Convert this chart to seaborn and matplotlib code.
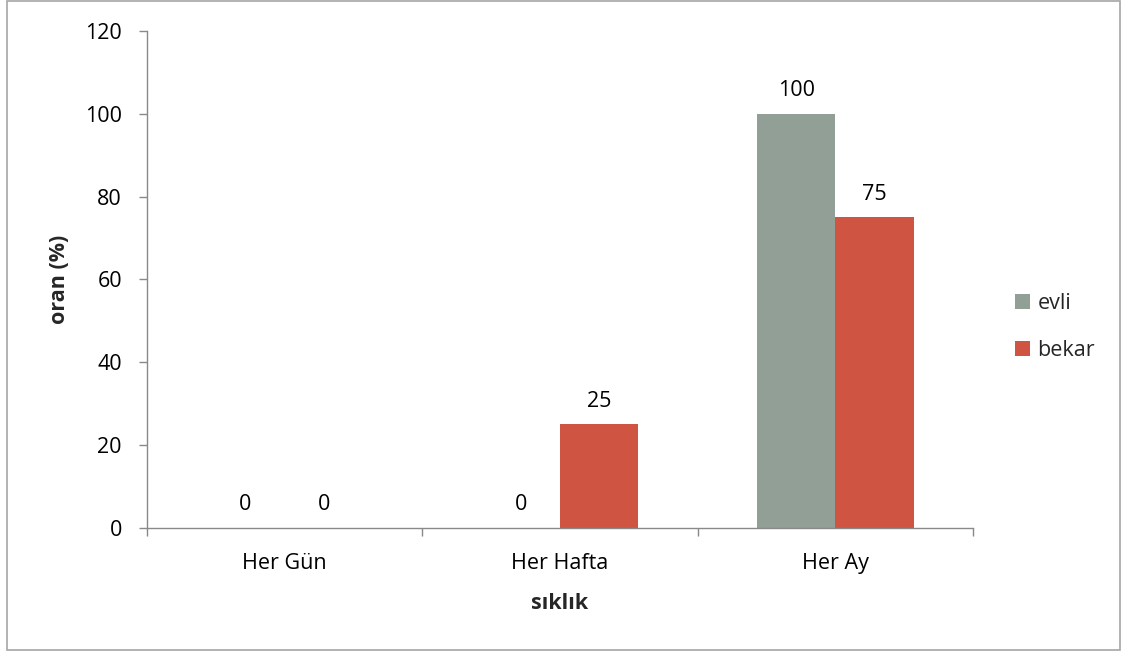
import matplotlib
matplotlib.use("Agg")
import matplotlib.pyplot as plt
from matplotlib.patches import Rectangle
import pandas as pd
import seaborn as sns

categories = ["Her Gün", "Her Hafta", "Her Ay"]
evli = [0, 0, 100]
bekar = [0, 25, 75]
series_names = ["evli", "bekar"]
y_ticks = [0, 20, 40, 60, 80, 100, 120]

df = pd.DataFrame({
    "sıklık": categories * 2,
    "oran": evli + bekar,
    "durum": [series_names[0]] * len(categories) + [series_names[1]] * len(categories),
})

sns.set_theme(style="white")
plt.rcParams["font.family"] = ["Open Sans", "DejaVu Sans"]
FS = 15.5

fig = plt.figure(figsize=(11.28, 6.55), dpi=100)
ax = fig.add_axes([0.1303, 0.1939, 0.7323, 0.7588])

palette = {"evli": "#919F96", "bekar": "#CF5441"}
sns.barplot(data=df, x="sıklık", y="oran", hue="durum", palette=palette,
            width=0.57, saturation=1, ax=ax, legend=True, linewidth=0)

axis_grey = "#898989"
ax.set_ylim(0, 120)
ax.set_xlim(-0.5, len(categories) - 0.5)
ax.set_yticks(y_ticks)
ax.tick_params(axis="y", left=True, labelsize=FS, colors="black", length=6, width=1,
               color=axis_grey, direction="out", pad=12)
ax.tick_params(axis="x", which="major", bottom=False, labelsize=FS, colors="black",
               length=0, pad=18)
for s in ["top", "right"]:
    ax.spines[s].set_visible(False)
for s in ["left", "bottom"]:
    ax.spines[s].set_color(axis_grey)
    ax.spines[s].set_linewidth(1)

# category boundary tick marks below the x axis
ax.set_xticks([i - 0.5 for i in range(len(categories) + 1)], minor=True)
ax.tick_params(axis="x", which="minor", bottom=True, length=6, width=1,
               color=axis_grey, direction="out")

ax.set_xlabel("sıklık", fontsize=FS, fontweight="bold")
ax.set_ylabel("oran (%)", fontsize=FS, fontweight="bold")
ax.xaxis.set_label_coords(0.5, -0.13)
ax.yaxis.set_label_coords(-0.093, 0.5)

for cont in ax.containers:
    ax.bar_label(cont, fmt="%g", padding=9, fontsize=FS, color="black")

ax.legend(title=None, frameon=False, loc="center left",
          bbox_to_anchor=(1.051, 0.404), fontsize=FS,
          handlelength=0.68, handleheight=0.68, handletextpad=0.35,
          labelspacing=1.2, borderpad=0, borderaxespad=0)

# chart frame
fig.patches.append(Rectangle((7 / 1128, 5 / 655), 1113 / 1128, 649 / 655,
                             transform=fig.transFigure, fill=False,
                             edgecolor="#A6A6A6", linewidth=1.2))

fig.savefig("out.png", dpi=100)
